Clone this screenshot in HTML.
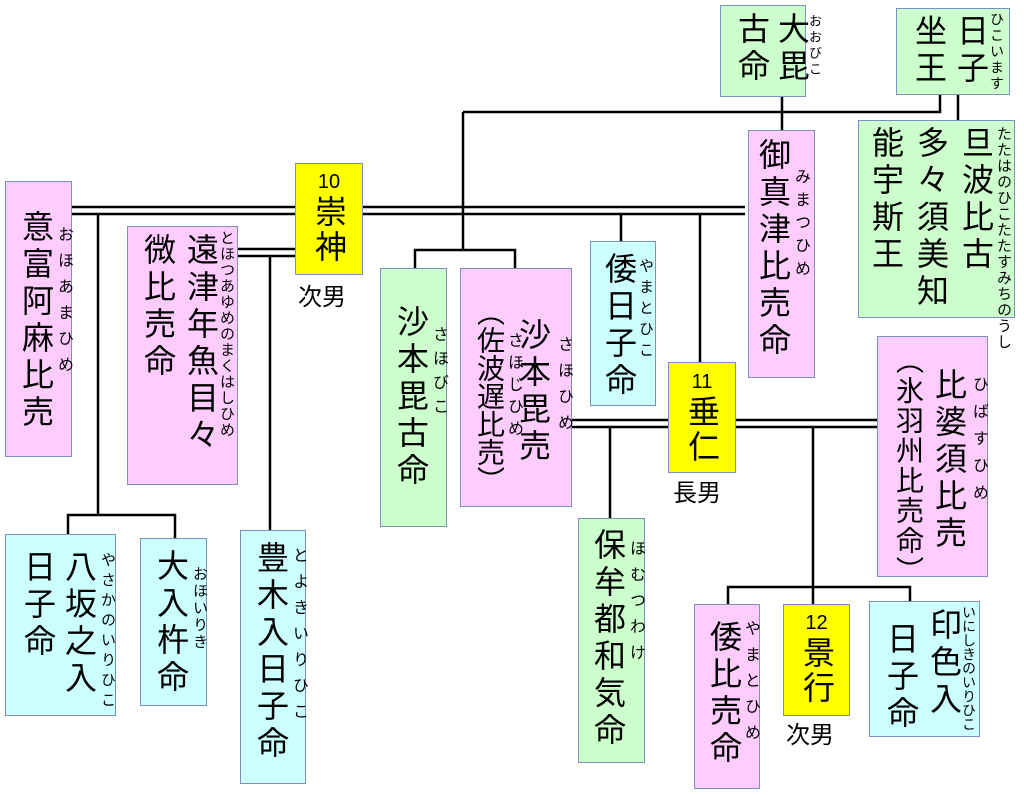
<!DOCTYPE html>
<html><head><meta charset="utf-8"><style>
body{margin:0;width:1024px;height:795px;background:#fff;position:relative;overflow:hidden;font-family:"Liberation Sans","Noto Sans CJK JP",sans-serif;}
.b{position:absolute;border:1.5px solid #7d8fbf;box-sizing:border-box;}
.g{background:#ccffcc}.p{background:#ffccff}.c{background:#ccffff}.y{background:#ffff00}
.v{position:absolute;writing-mode:vertical-rl;font-size:32px;line-height:1;letter-spacing:5px;white-space:nowrap;color:#000;}
.f{position:absolute;writing-mode:vertical-rl;font-size:15px;line-height:1;white-space:nowrap;color:#000;}
.h{position:absolute;font-size:24px;line-height:1;white-space:nowrap;}
.n{position:absolute;font-size:20px;line-height:1;text-align:center;}
svg{position:absolute;left:0;top:0}
</style></head><body>
<svg width="1024" height="795" stroke="#000" stroke-width="2.5" fill="none">
<path d="M463 112H940V95M958 95V120M782 97V130M463 112V250M415 268V250H515V268"/>
<path d="M72 207H295M72 214H295M363 207H745M363 214H745"/>
<path d="M98 214V515M68 534V515H175V538"/>
<path d="M238 249H295M238 256H295M270 256V530"/>
<path d="M621 214V241M700 214V362"/>
<path d="M572 420H668M572 427H668M736 420H877M736 427H877"/>
<path d="M610 427V518M813 427V604M728 604V587H910V601"/>
</svg>

<div class="b g" style="left:720px;top:5px;width:86px;height:92px"></div>
<div class="v" style="left:776px;top:12px">大毘</div><div class="v" style="left:736px;top:12px">古命</div>
<div class="f" style="left:808px;top:14px;font-size:13px;letter-spacing:3px">おおびこ</div>

<div class="b g" style="left:896px;top:8px;width:114px;height:87px"></div>
<div class="v" style="left:955px;top:14px">日子</div><div class="v" style="left:913px;top:14px">坐王</div>
<div class="f" style="left:990px;top:12px;font-size:14px;letter-spacing:2px">ひこいます</div>

<div class="b g" style="left:858px;top:120px;width:157px;height:198px"></div>
<div class="v" style="left:960px;top:126px">旦波比古</div><div class="v" style="left:915px;top:126px">多々須美知</div><div class="v" style="left:870px;top:126px">能宇斯王</div>
<div class="f" style="left:996px;top:126px;font-size:15px;letter-spacing:1px">たたはのひこたたすみちのうし</div>

<div class="b p" style="left:748px;top:130px;width:67px;height:248px"></div>
<div class="v" style="left:757px;top:138px">御真津比売命</div>
<div class="f" style="left:792px;top:168px;font-size:16px;letter-spacing:7px">みまつひめ</div>

<div class="b y" style="left:295px;top:163px;width:68px;height:112px"></div>
<div class="n" style="left:295px;top:172px;width:68px">10</div>
<div class="v" style="left:313px;top:195px;letter-spacing:3px">崇神</div>
<div class="h" style="left:298px;top:286px">次男</div>

<div class="b p" style="left:5px;top:181px;width:67px;height:276px"></div>
<div class="v" style="left:20px;top:210px">意富阿麻比売</div>
<div class="f" style="left:55px;top:226px;font-size:16px;letter-spacing:10px">おほあまひめ</div>

<div class="b p" style="left:127px;top:226px;width:111px;height:259px"></div>
<div class="v" style="left:185px;top:233px">遠津年魚目々</div><div class="v" style="left:142px;top:233px">微比売命</div>
<div class="f" style="left:219px;top:230px;font-size:15px;letter-spacing:1px">とほつあゆめのまくはしひめ</div>

<div class="b g" style="left:380px;top:268px;width:67px;height:259px"></div>
<div class="v" style="left:395px;top:305px">沙本毘古命</div>
<div class="f" style="left:430px;top:326px;font-size:16px;letter-spacing:8px">さほびこ</div>

<div class="b p" style="left:460px;top:268px;width:112px;height:239px"></div>
<div class="v" style="left:517px;top:318px">沙本毘売</div>
<div class="f" style="left:555px;top:336px;font-size:16px;letter-spacing:10px">さほひめ</div>
<div class="v" style="left:475px;top:298px;font-size:28px;letter-spacing:0px">（佐波遅比売）</div>
<div class="f" style="left:505px;top:332px;font-size:16px;letter-spacing:6px">さほじひめ</div>

<div class="b c" style="left:590px;top:241px;width:66px;height:165px"></div>
<div class="v" style="left:603px;top:252px">倭日子命</div>
<div class="f" style="left:638px;top:258px;font-size:15px;letter-spacing:6px">やまとひこ</div>

<div class="b y" style="left:668px;top:362px;width:68px;height:111px"></div>
<div class="n" style="left:668px;top:372px;width:68px">11</div>
<div class="v" style="left:686px;top:395px;letter-spacing:3px">垂仁</div>
<div class="h" style="left:673px;top:482px">長男</div>

<div class="b p" style="left:877px;top:336px;width:111px;height:241px"></div>
<div class="v" style="left:933px;top:368px">比婆須比売</div>
<div class="f" style="left:970px;top:376px;font-size:16px;letter-spacing:11px">ひばすひめ</div>
<div class="v" style="left:894px;top:346px;font-size:28px;letter-spacing:2px">（氷羽州比売命）</div>

<div class="b c" style="left:5px;top:534px;width:111px;height:182px"></div>
<div class="v" style="left:63px;top:550px">八坂之入</div><div class="v" style="left:22px;top:550px">日子命</div>
<div class="f" style="left:100px;top:552px;font-size:15px;letter-spacing:5px">やさかのいりひこ</div>

<div class="b c" style="left:140px;top:538px;width:67px;height:168px"></div>
<div class="v" style="left:155px;top:549px">大入杵命</div>
<div class="f" style="left:192px;top:566px;font-size:15px;letter-spacing:2px">おほいりき</div>

<div class="b c" style="left:240px;top:530px;width:66px;height:254px"></div>
<div class="v" style="left:255px;top:541px">豊木入日子命</div>
<div class="f" style="left:290px;top:547px;font-size:16px;letter-spacing:10px">とよきいりひこ</div>

<div class="b g" style="left:578px;top:518px;width:67px;height:245px"></div>
<div class="v" style="left:592px;top:528px">保牟都和気命</div>
<div class="f" style="left:627px;top:540px;font-size:16px;letter-spacing:10px">ほむつわけ</div>

<div class="b p" style="left:694px;top:604px;width:66px;height:185px"></div>
<div class="v" style="left:708px;top:620px">倭比売命</div>
<div class="f" style="left:742px;top:620px;font-size:16px;letter-spacing:10px">やまとひめ</div>

<div class="b y" style="left:783px;top:604px;width:67px;height:112px"></div>
<div class="n" style="left:783px;top:613px;width:67px">12</div>
<div class="v" style="left:801px;top:636px;letter-spacing:3px">景行</div>
<div class="h" style="left:786px;top:724px">次男</div>

<div class="b c" style="left:869px;top:601px;width:111px;height:136px"></div>
<div class="v" style="left:928px;top:608px">印色入</div><div class="v" style="left:885px;top:622px">日子命</div>
<div class="f" style="left:962px;top:605px;font-size:14px;letter-spacing:0px">いにしきのいりひこ</div>
</body></html>
